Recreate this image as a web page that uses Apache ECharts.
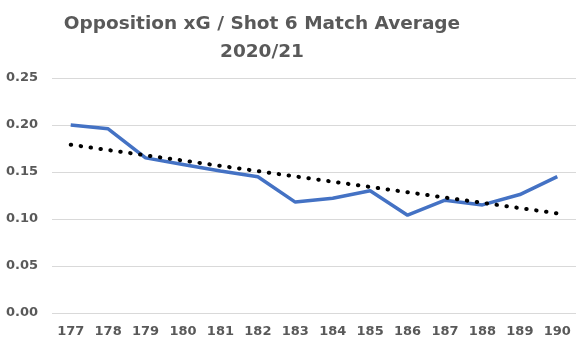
<!DOCTYPE html>
<html>
<head>
<meta charset="utf-8">
<script src="https://cdn.jsdelivr.net/npm/echarts@6/dist/echarts.min.js"></script>
<style>
  html, body { margin: 0; padding: 0; background: #fff; }
  #chart { width: 585px; height: 351px; }
</style>
</head>
<body>
<div id="chart"></div>
<script>
// match numbers
var matches = ['177', '178', '179', '180', '181', '182', '183', '184', '185', '186', '187', '188', '189', '190'];
// opposition xG per shot, 6 match rolling average
var xgPerShot = [0.200, 0.196, 0.165, 0.158, 0.151, 0.145, 0.118, 0.122, 0.130, 0.104, 0.120, 0.115, 0.126, 0.145];
// linear trendline end points
var trendStart = 0.179;
var trendEnd = 0.106;

var textGrey = '#595959';
var font = 'DejaVu Sans';

var chart = echarts.init(document.getElementById('chart'));
chart.setOption({
  animation: false,
  title: {
    text: 'Opposition xG / Shot 6 Match Average\n2020/21',
    left: 257,
    top: 5,
    textAlign: 'center',
    textStyle: {
      color: textGrey,
      fontFamily: font,
      fontWeight: 'bold',
      fontSize: 18.5,
      lineHeight: 28
    }
  },
  grid: { left: 52, right: 9, top: 78, bottom: 38 },
  xAxis: {
    type: 'category',
    data: matches,
    boundaryGap: true,
    axisLine: { show: false },
    axisTick: { show: false },
    axisLabel: {
      color: textGrey,
      fontFamily: font,
      fontWeight: 'bold',
      fontSize: 13,
      margin: 12
    }
  },
  yAxis: {
    type: 'value',
    min: 0,
    max: 0.25,
    interval: 0.05,
    axisLabel: {
      color: textGrey,
      fontFamily: font,
      fontWeight: 'bold',
      fontSize: 13,
      margin: 14,
      formatter: function (v) { return v.toFixed(2); }
    },
    splitLine: { lineStyle: { color: '#d9d9d9', width: 1 } }
  },
  series: [
    {
      type: 'line',
      data: xgPerShot,
      symbol: 'none',
      lineStyle: { color: '#4472C4', width: 3.5 },
      markLine: {
        silent: true,
        symbol: ['none', 'none'],
        label: { show: false },
        lineStyle: {
          color: '#000',
          width: 4,
          type: [0.5, 9.5],
          cap: 'round'
        },
        data: [[
          { coord: [matches[0], trendStart] },
          { coord: [matches[matches.length - 1], trendEnd] }
        ]]
      }
    }
  ]
});
</script>
</body>
</html>
